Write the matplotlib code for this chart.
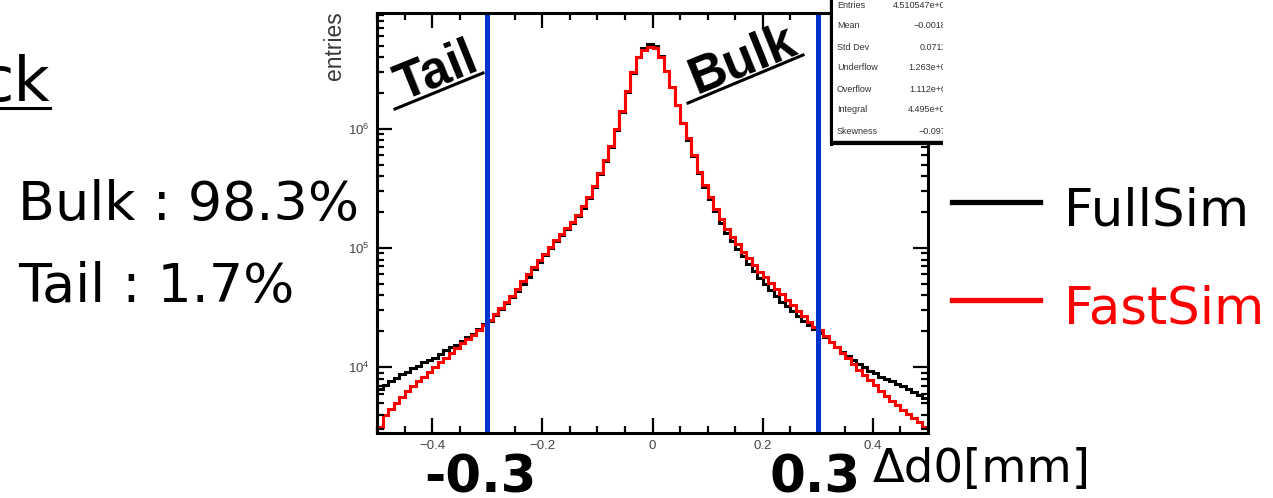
import matplotlib.pyplot as plt
import numpy as np
from matplotlib.lines import Line2D
from matplotlib.patches import Rectangle
from matplotlib.ticker import MultipleLocator, LogLocator, NullFormatter

# ----------------------------------------------------------------------------------- #
#                                        Data                                         #
# ----------------------------------------------------------------------------------- #

# 100 bins of 0.01 mm between -0.5 and 0.5 (log10 entries)
bin_edges = np.round(np.arange(-0.5, 0.5001, 0.01), 3)

fullsim_log10 = [
    3.82, 3.85, 3.88, 3.91, 3.94, 3.96, 3.99, 4.01, 4.04, 4.06,
    4.08, 4.11, 4.14, 4.17, 4.19, 4.22, 4.25, 4.28, 4.32, 4.36,
    4.39, 4.44, 4.49, 4.54, 4.59, 4.64, 4.70, 4.76, 4.82, 4.88,
    4.94, 5.00, 5.06, 5.11, 5.16, 5.21, 5.27, 5.34, 5.42, 5.51,
    5.62, 5.73, 5.85, 5.99, 6.14, 6.31, 6.47, 6.60, 6.68, 6.71,
    6.70, 6.61, 6.49, 6.35, 6.20, 6.05, 5.91, 5.77, 5.63, 5.51,
    5.41, 5.31, 5.21, 5.13, 5.06, 4.99, 4.93, 4.87, 4.81, 4.75,
    4.70, 4.65, 4.60, 4.55, 4.51, 4.47, 4.43, 4.39, 4.35, 4.32,
    4.29, 4.25, 4.21, 4.17, 4.13, 4.09, 4.06, 4.03, 4.00, 3.97,
    3.95, 3.92, 3.90, 3.88, 3.86, 3.84, 3.82, 3.79, 3.77, 3.74,
]

fastsim_log10 = [
    3.50, 3.60, 3.65, 3.70, 3.75, 3.80, 3.84, 3.88, 3.92, 3.96,
    4.00, 4.04, 4.08, 4.12, 4.16, 4.20, 4.24, 4.27, 4.31, 4.35,
    4.40, 4.45, 4.50, 4.55, 4.60, 4.66, 4.72, 4.78, 4.84, 4.90,
    4.95, 5.01, 5.07, 5.12, 5.17, 5.22, 5.28, 5.35, 5.43, 5.52,
    5.63, 5.74, 5.86, 6.00, 6.15, 6.32, 6.48, 6.60, 6.66, 6.69,
    6.68, 6.60, 6.49, 6.35, 6.20, 6.05, 5.92, 5.78, 5.64, 5.53,
    5.43, 5.33, 5.24, 5.16, 5.09, 5.03, 4.97, 4.92, 4.86, 4.80,
    4.76, 4.71, 4.66, 4.61, 4.56, 4.52, 4.47, 4.43, 4.38, 4.34,
    4.31, 4.26, 4.21, 4.17, 4.12, 4.08, 4.03, 3.98, 3.93, 3.89,
    3.85, 3.80, 3.76, 3.72, 3.68, 3.64, 3.61, 3.57, 3.54, 3.50,
]

cut_values = [-0.3, 0.3]
cut_labels = ['-0.3', '0.3']
x_ticks = [-0.4, -0.2, 0, 0.2, 0.4]
x_tick_labels = ['\u22120.4', '\u22120.2', '0', '0.2', '0.4']

stat_names = ['Entries', 'Mean', 'Std Dev', 'Underflow', 'Overflow', 'Integral', 'Skewness']
stat_values = ['4.510547e+06', '\u22120.00182', '0.07117', '1.263e+04',
               '1.112e+04', '4.495e+06', '\u22120.0973']

fraction_lines = ['Bulk : 98.3%', 'Tail : 1.7%']
legend_names = ['FullSim', 'FastSim']
legend_colors = ['black', '#ff0000']

# ----------------------------------------------------------------------------------- #
#                                   Configurations                                    #
# ----------------------------------------------------------------------------------- #

plt.rcParams['font.family'] = 'Liberation Sans'
plt.rcParams['mathtext.fontset'] = 'custom'
plt.rcParams['mathtext.rm'] = 'Liberation Sans'
plt.rcParams['mathtext.it'] = 'Liberation Sans'

W, H = 1273, 498
fig = plt.figure(figsize=(W / 100, H / 100), dpi=100)


def fx(x):
    return x / W


def fy(y):
    return 1 - y / H


# ----------------------------------------------------------------------------------- #
#                                   Histogram axes                                    #
# ----------------------------------------------------------------------------------- #

# pixel box 377..928 x 13..433
ax = fig.add_axes([fx(377), fy(433), fx(928 - 377), (433 - 13) / H])
ax.stairs(10 ** np.array(fullsim_log10), bin_edges, color='black', lw=2.2, baseline=None)
ax.stairs(10 ** np.array(fastsim_log10), bin_edges, color='#ff0000', lw=2.2, baseline=None)
for c in cut_values:
    ax.axvline(c, ymin=0.01, ymax=1, color='#0033cc', lw=3.6)

ax.set_yscale('log')
ax.set_xlim(-0.5, 0.5)
ax.set_ylim(2.8e3, 9.4e6)
ax.set_xticks(x_ticks)
ax.set_xticklabels(x_tick_labels)
ax.xaxis.set_minor_locator(MultipleLocator(0.05))
ax.yaxis.set_major_locator(LogLocator(base=10))
ax.yaxis.set_minor_locator(LogLocator(base=10, subs=np.arange(2, 10)))
ax.yaxis.set_minor_formatter(NullFormatter())
ax.tick_params(which='both', direction='in', top=True, right=True, width=1.6,
               labelsize=9.5, labelcolor='#444444', pad=5)
ax.tick_params(which='major', length=11)
ax.tick_params(which='minor', length=5)
for s in ax.spines.values():
    s.set_linewidth(2.2)

fig.text(fx(334), fy(46), 'entries', rotation=90, ha='center', va='center',
         fontsize=16.5, color='#3a3a3a')

# Tail / Bulk annotations with underline
ang = 22
for word, (x0, y0, x1, y1) in [('Tail', (395, 109, 483, 73)), ('Bulk', (688, 103, 803, 55))]:
    mx, my = (x0 + x1) / 2, (y0 + y1) / 2
    fig.text(fx(mx + 2.5), fy(my - 6), word, rotation=ang, rotation_mode='anchor',
             ha='center', va='baseline', fontsize=37, fontweight='bold')
    fig.add_artist(Line2D([fx(x0), fx(x1)], [fy(y0), fy(y1)], color='black', lw=2.2))

# stats box, clipped at the right like on the slide
sax = fig.add_axes([fx(829), fy(147), fx(943 - 829), 147 / H])
sax.set_xlim(829, 943)
sax.set_ylim(147, 0)
sax.axis('off')
sax.add_patch(Rectangle((831, -30), 200, 172, facecolor='white', edgecolor='black', lw=1.6))
sax.plot([833, 1000], [143.5, 143.5], color='black', lw=3, solid_capstyle='butt')
sax.plot([831, 831], [-10, 144], color='black', lw=2.2)
for i, (n, v) in enumerate(zip(stat_names, stat_values)):
    yy = 5 + 21 * i
    sax.text(837, yy, n, fontsize=6.5, va='center', ha='left', color='#333333', clip_on=True)
    sax.text(951, yy, v, fontsize=6.5, va='center', ha='right', color='#333333', clip_on=True)

# ----------------------------------------------------------------------------------- #
#                                     Slide texts                                     #
# ----------------------------------------------------------------------------------- #

fig.text(fx(50), fy(101), 'ck', ha='right', va='baseline', fontsize=45, family='DejaVu Sans')
fig.add_artist(Line2D([0, fx(50)], [fy(108), fy(108)], color='black', lw=2.2))

for txt, yb in zip(fraction_lines, [220, 302]):
    fig.text(fx(18), fy(yb), txt, ha='left', va='baseline', fontsize=38.8, family='DejaVu Sans')

for txt, x in zip(cut_labels, [480, 815]):
    fig.text(fx(x), fy(492), txt, ha='center', va='baseline', fontsize=37,
             fontweight='bold', family='DejaVu Sans')

fig.text(fx(873), fy(482), '\u0394d0[mm]', ha='left', va='baseline', fontsize=33.5,
         family='DejaVu Sans')

# legend
for name, col, yy in zip(legend_names, legend_colors, [202, 300]):
    fig.add_artist(Line2D([fx(952), fx(1040)], [fy(yy), fy(yy)], color=col, lw=3.8))
    fig.text(fx(1064), fy(yy + 23), name, ha='left', va='baseline', fontsize=37,
             color=col, family='DejaVu Sans')

fig.savefig('out.png', dpi=100)
